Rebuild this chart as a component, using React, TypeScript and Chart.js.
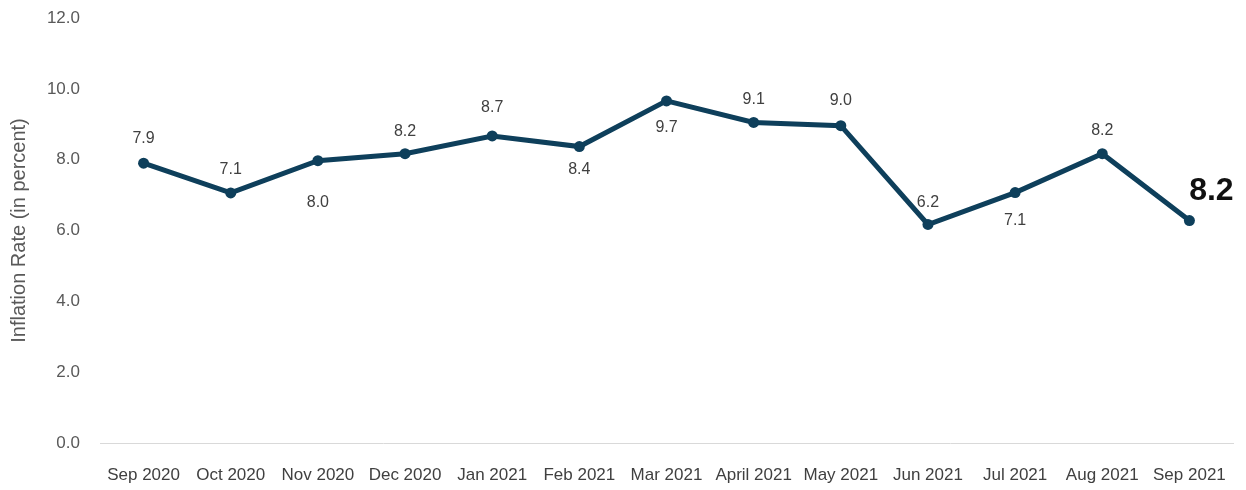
import React, { useEffect, useRef } from "react";
import { Chart, registerables } from "chart.js";

Chart.register(...registerables);

const categories = [
  "Sep 2020", "Oct 2020", "Nov 2020", "Dec 2020", "Jan 2021", "Feb 2021", "Mar 2021",
  "April 2021", "May 2021", "Jun 2021", "Jul 2021", "Aug 2021", "Sep 2021",
];
const inflationValues = [7.9, 7.06, 7.97, 8.17, 8.67, 8.37, 9.66, 9.05, 8.96, 6.17, 7.07, 8.17, 6.28];
const dataLabels = ["7.9", "7.1", "8.0", "8.2", "8.7", "8.4", "9.7", "9.1", "9.0", "6.2", "7.1", "8.2", "8.2"];
const yTicks = [0, 2, 4, 6, 8, 10, 12];

// styling: vertical pixel offset of each data label relative to its point
const labelOffsets = [-25, -23, 42, -22, -28, 23, 27, -23, -25, -22, 28, -23];

const LINE_COLOR = "#0e3f5b";
const FONT = "'Liberation Sans', Arial, sans-serif";

const labelPlugin = {
  id: "pointLabels",
  afterDatasetsDraw(chart: any) {
    const ctx = chart.ctx;
    const meta = chart.getDatasetMeta(0);
    ctx.save();
    ctx.textAlign = "center";
    ctx.textBaseline = "middle";
    meta.data.forEach((pt: any, i: number) => {
      const last = i === meta.data.length - 1;
      if (last) {
        ctx.font = `bold 32px ${FONT}`;
        ctx.fillStyle = "#111111";
        ctx.fillText(dataLabels[i], pt.x + 22, pt.y - 29);
      } else {
        ctx.font = `16px ${FONT}`;
        ctx.fillStyle = "#404040";
        ctx.fillText(dataLabels[i], pt.x, pt.y + labelOffsets[i]);
      }
    });
    ctx.restore();
  },
};

export default function App() {
  const ref = useRef<HTMLCanvasElement | null>(null);
  useEffect(() => {
    if (!ref.current) return;
    const chart = new Chart(ref.current, {
      type: "line",
      data: {
        labels: categories,
        datasets: [
          {
            data: inflationValues,
            borderColor: LINE_COLOR,
            backgroundColor: LINE_COLOR,
            borderWidth: 5,
            pointRadius: 5.5,
            pointHoverRadius: 5.5,
            pointBackgroundColor: LINE_COLOR,
            pointBorderWidth: 0,
            tension: 0,
          },
        ],
      },
      options: {
        animation: false,
        responsive: true,
        maintainAspectRatio: false,
        layout: { padding: { top: 18, right: 13, left: 0, bottom: 0 } },
        plugins: { legend: { display: false }, tooltip: { enabled: false } },
        scales: {
          x: {
            offset: true,
            grid: { display: false },
            border: { display: true, color: "#d9d9d9", width: 1 },
            ticks: {
              color: "#404040",
              font: { family: FONT, size: 17 },
              padding: 14,
              maxRotation: 0,
              autoSkip: false,
            },
            afterFit(scale: any) {
              scale.height = 47;
            },
          },
          y: {
            min: 0,
            max: 12,
            afterBuildTicks(scale: any) {
              scale.ticks = yTicks.map((v) => ({ value: v }));
            },
            grid: { display: false, drawTicks: false },
            border: { display: false },
            ticks: {
              color: "#595959",
              font: { family: FONT, size: 17 },
              padding: 20,
              callback: (v: any) => Number(v).toFixed(1),
            },
            title: {
              display: true,
              text: "Inflation Rate (in percent)",
              color: "#595959",
              font: { family: FONT, size: 20 },
              padding: { top: 7, bottom: 0 },
            },
            afterFit(scale: any) {
              scale.width = 100;
              scale.paddingTop = 0;
              scale.paddingBottom = 0;
            },
          },
        },
      },
      plugins: [labelPlugin],
    });
    return () => chart.destroy();
  }, []);
  return (
    <div style={{ position: "fixed", left: 0, top: 0, width: 1246, height: 490, background: "#fff" }}>
      <canvas ref={ref} />
    </div>
  );
}
